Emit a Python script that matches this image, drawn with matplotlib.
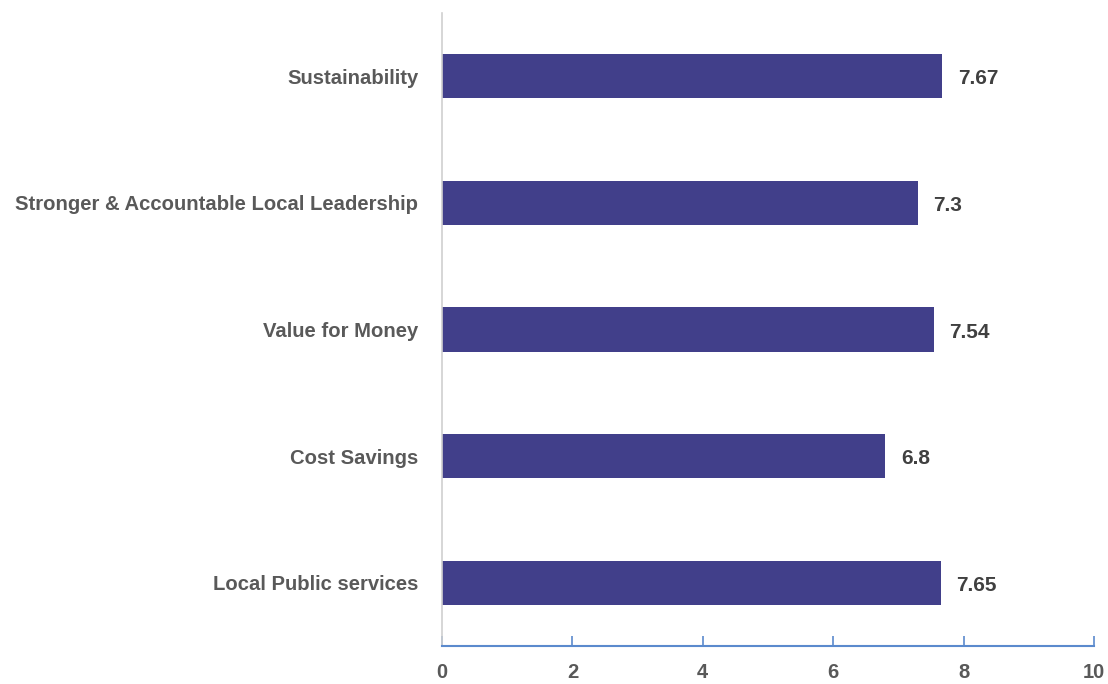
import matplotlib.pyplot as plt

categories = ['Local Public services', 'Cost Savings', 'Value for Money',
              'Stronger & Accountable Local Leadership', 'Sustainability']
scores = [7.65, 6.8, 7.54, 7.3, 7.67]
score_labels = ['7.65', '6.8', '7.54', '7.3', '7.67']
xticks = [0, 2, 4, 6, 8, 10]

plt.rcParams['font.family'] = ['Liberation Sans', 'DejaVu Sans']

fig = plt.figure(figsize=(11.08, 6.84), dpi=100)
ax = fig.add_axes([442/1108, 38/684, 652/1108, 633/684])

ypos = list(range(len(categories)))
ax.barh(ypos, scores, height=0.35, color='#413F8A')
for y, v, t in zip(ypos, scores, score_labels):
    ax.text(v + 0.24, y - 0.02, t, va='center', ha='left', fontsize=15,
            fontweight='bold', color='#404040')

ax.set_xlim(0, 10)
ax.set_ylim(-0.5, 4.5)
ax.set_yticks(ypos)
ax.set_yticklabels(categories, fontsize=14.6, fontweight='bold', color='#595959')
ax.set_xticks(xticks)
ax.set_xticklabels([str(x) for x in xticks], fontsize=14.5, fontweight='bold', color='#595959')
ax.tick_params(axis='y', length=0, pad=17)
ax.tick_params(axis='x', direction='in', length=7, width=1.2, color='#5B8ACD', pad=12)

for s in ['top', 'right']:
    ax.spines[s].set_visible(False)
ax.spines['left'].set_color('#D0D0D0')
ax.spines['left'].set_linewidth(1.2)
ax.spines['bottom'].set_color('#5B8ACD')
ax.spines['bottom'].set_linewidth(1.5)

fig.savefig('out.png', dpi=100)
